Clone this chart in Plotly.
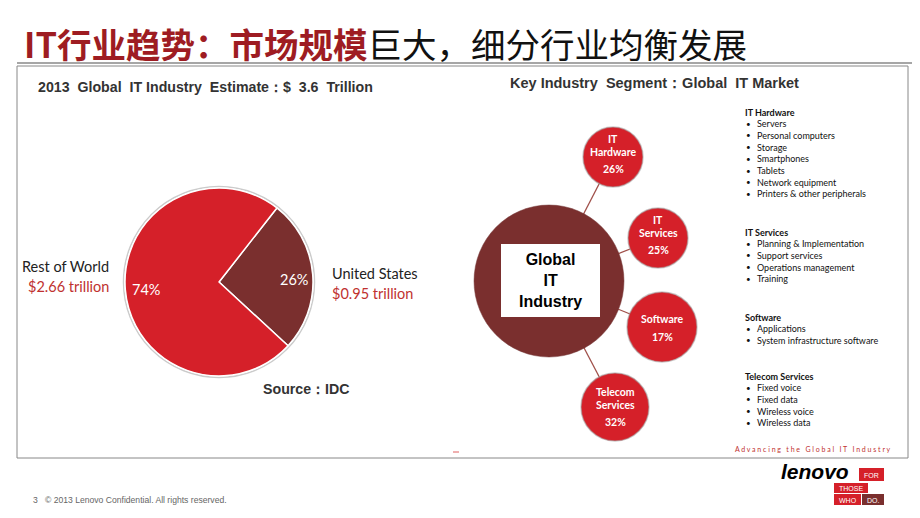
import plotly.graph_objects as go

# pie data (trillion USD)
regions = ["United States", "Rest of World"]
market_size = [0.95, 2.66]
total_estimate = 3.6

# segment bubbles
segments = [["IT", "Hardware"], ["IT", "Services"], ["Software"], ["Telecom", "Services"]]
segment_share = [26, 25, 17, 32]

segment_items = {
    "IT Hardware": ["Servers", "Personal computers", "Storage", "Smartphones",
                    "Tablets", "Network equipment", "Printers & other peripherals"],
    "IT Services": ["Planning & Implementation", "Support services",
                    "Operations management", "Training"],
    "Software": ["Applications", "System infrastructure software"],
    "Telecom Services": ["Fixed voice", "Fixed data", "Wireless voice", "Wireless data"],
}

RED = "#D52029"
BROWN = "#7A2F2E"
DARKRED = "#9E1C22"
# the page body adds an 8px margin, so the figure is drawn 8px in
OFF = 8
W, H = 920 - OFF, 518 - OFF
CAL = "Lato, 'Open Sans', sans-serif"
ARIAL = "Arial, 'Liberation Sans', sans-serif"

fig = go.Figure()

# ---- pie (left) ----
cx, cy, r = 219, 282, 94
fig.add_trace(go.Pie(
    labels=regions, values=market_size,
    marker=dict(colors=[BROWN, RED], line=dict(color="white", width=1.5)),
    sort=False, direction="clockwise", rotation=38,
    textinfo="none", hoverinfo="label+value+percent", showlegend=False,
    domain=dict(x=[(cx - r - OFF) / W, (cx + r - OFF) / W],
                y=[1 - (cy + r - OFF) / H, 1 - (cy - r - OFF) / H]),
))

shapes = []
annotations = []

def txt(x, y, text, size, color="#222", family=CAL, xanchor="left", **kw):
    annotations.append(dict(x=x, y=y, xref="x", yref="y", text=text, showarrow=False,
                            xanchor=xanchor, yanchor="middle",
                            font=dict(size=size, color=color, family=family), **kw))

# outline ring behind the pie
shapes.append(dict(type="circle", xref="x", yref="y", layer="below",
                   x0=cx - r - 1.5, x1=cx + r + 1.5, y0=cy - r - 1.5, y1=cy + r + 1.5,
                   line=dict(color="rgba(140,140,140,0.45)", width=1.5), fillcolor="rgba(0,0,0,0)"))

tot = sum(market_size)
pct = [round(v / tot * 100) for v in market_size]
txt(294, 279, f"{pct[0]}%", 14.5, "white", xanchor="center")
txt(146, 289, f"{pct[1]}%", 14.5, "white", xanchor="center")
txt(330, 273, regions[0], 14.5, "#222")
txt(330, 293, f"${market_size[0]:.2f} trillion", 14.5, "#C0312F")
txt(111, 266, regions[1], 14.5, "#222", xanchor="right")
txt(111, 286, f"${market_size[1]:.2f} trillion", 14.5, "#C0312F", xanchor="right")

txt(36, 87, f"<b>2013  Global  IT Industry  Estimate：$  {total_estimate}  Trillion</b>",
    14.2, "#333", family=ARIAL)
txt(261, 389, "<b>Source：IDC</b>", 14.2, "#333", family=ARIAL)

# ---- bubble diagram (right) ----
bx, by, br = 549, 281, 75
nodes = [(613, 157, 30), (658, 238, 30), (662, 327, 35), (615, 407, 34)]
line_offsets = {3: [-18, -5, 12], 2: [-8, 10]}
for (nx, ny, nr) in nodes:
    shapes.append(dict(type="line", xref="x", yref="y", x0=bx, y0=by, x1=nx, y1=ny,
                       line=dict(color="#A0504A", width=1.3)))
shapes.append(dict(type="circle", xref="x", yref="y", x0=bx - br, x1=bx + br,
                   y0=by - br - 1, y1=by + br + 1, fillcolor=BROWN,
                   line=dict(color="rgba(120,60,60,0.5)", width=1)))
shapes.append(dict(type="rect", xref="x", yref="y", x0=501, x1=600, y0=244, y1=317,
                   fillcolor="white", line=dict(width=0)))
txt(550, 280.5, "<b>Global<br>IT<br>Industry</b>", 16, "black", family=ARIAL,
    xanchor="center")
for (nx, ny, nr), words, share in zip(nodes, segments, segment_share):
    shapes.append(dict(type="circle", xref="x", yref="y", x0=nx - nr, x1=nx + nr,
                       y0=ny - nr, y1=ny + nr, fillcolor=RED,
                       line=dict(color="rgba(160,160,160,0.55)", width=1.5)))
    parts = words + [f"{share}%"]
    offs = line_offsets[len(parts)]
    if words[0] == "Telecom":
        offs = [-15, -2, 15]
    for part, dy in zip(parts, offs):
        txt(nx, ny + dy, f"<b>{part}</b>", 10.5, "white", xanchor="center")

txt(654, 83, "<b>Key Industry  Segment：Global  IT Market</b>", 14.5, "#333",
    family=ARIAL, xanchor="center")

# ---- segment item lists ----
heads_y = {"IT Hardware": 112, "IT Services": 232, "Software": 317, "Telecom Services": 376}
for head, items in segment_items.items():
    y0 = heads_y[head]
    txt(743, y0, f"<b>{head}</b>", 9, "#111")
    for i, item in enumerate(items):
        yy = y0 + 11.7 * (i + 1)
        txt(744, yy, "•", 8, "#111")
        txt(755, yy, item, 9, "#111")

txt(733, 449, "A d v a n c i n g   t h e   G l o b a l   I T   I n d u s t r y",
    7, "#C0312F")

# ---- slide furniture ----
txt(22, 43, f"<span style='color:{DARKRED}'><b>IT行业趋势：市场规模</b></span>巨大，细分行业均衡发展",
    34.5, "#111", family="'Noto Sans CJK SC', sans-serif")
shapes.append(dict(type="line", xref="x", yref="y", x0=17, x1=920, y0=63, y1=63,
                   line=dict(color="#888", width=1.5)))
shapes.append(dict(type="rect", xref="x", yref="y", x0=17, x1=908, y0=66, y1=458,
                   line=dict(color="#888", width=1)))
shapes.append(dict(type="line", xref="x", yref="y", x0=453, x1=459, y0=452, y1=452,
                   line=dict(color="#E06060", width=1)))

txt(31, 500, "3   © 2013 Lenovo Confidential. All rights reserved.", 8.6, "#666",
    family="'Liberation Sans Narrow', 'Arial Narrow', sans-serif")

# lenovo logo
txt(815, 471, "<b><i>lenovo</i></b>", 21, "black", family=ARIAL, xanchor="center",
    borderpad=0)
for (x0, x1, y0, y1, col, label) in [(859, 884, 468, 481, RED, "FOR"),
                                      (834, 868, 483, 493, RED, "THOSE"),
                                      (834, 861, 494, 505, RED, "WHO"),
                                      (862, 884, 494, 505, BROWN, "DO.")]:
    shapes.append(dict(type="rect", xref="x", yref="y", x0=x0, x1=x1, y0=y0, y1=y1,
                       fillcolor=col, line=dict(width=0)))
    txt((x0 + x1) / 2, (y0 + y1) / 2 + 0.5, label, 7, "white",
        family="'Liberation Sans Narrow', sans-serif", xanchor="center", borderpad=0)

fig.update_layout(
    width=W, height=H, autosize=False,
    margin=dict(l=0, r=0, t=0, b=0),
    paper_bgcolor="white", plot_bgcolor="white",
    xaxis=dict(range=[OFF, W + OFF], visible=False, fixedrange=True),
    yaxis=dict(range=[H + OFF, OFF], visible=False, fixedrange=True),
    shapes=shapes, annotations=annotations,
)

fig.write_html("out.html")
